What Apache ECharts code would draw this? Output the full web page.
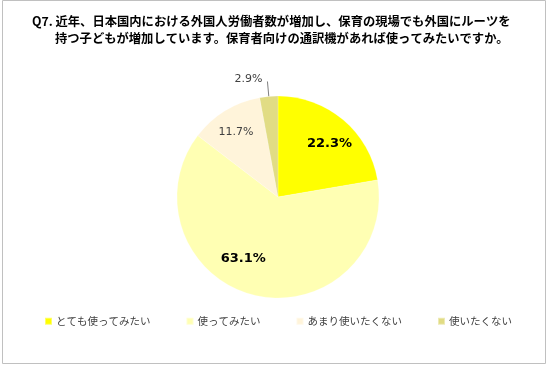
<!DOCTYPE html>
<html><head><meta charset="utf-8">
<script src="https://cdn.jsdelivr.net/npm/echarts@6/dist/echarts.min.js"></script>
<style>html,body{margin:0;padding:0;background:#fff}#c{width:549px;height:366px}</style>
</head><body><div id="c"></div>
<script>
const titleLine1 = 'Q7. 近年、日本国内における外国人労働者数が増加し、保育の現場でも外国にルーツを';
const titleLine2 = '持つ子どもが増加しています。保育者向けの通訳機があれば使ってみたいですか。';
const categories = ['とても使ってみたい', '使ってみたい', 'あまり使いたくない', '使いたくない'];
const values = [22.3, 63.1, 11.7, 2.9];
const colors = ['#FFFF00', '#FFFFB3', '#FFF4DA', '#E1DC84'];

const labelNudge = [[17, -12], [-22, 10], [-14, -19], [0, -2]];
const bigLabel = {show: true, position: 'inside', fontFamily: 'DejaVu Sans', fontWeight: 'bold', fontSize: 13, color: '#000'};
const labelStyles = [
  bigLabel,
  bigLabel,
  {show: true, position: 'inside', fontFamily: 'DejaVu Sans', fontSize: 11, color: '#404040'},
  {show: true, position: 'outside', fontFamily: 'DejaVu Sans', fontSize: 11, color: '#404040'}
];

const chart = echarts.init(document.getElementById('c'), null, {renderer: 'canvas'});
chart.setOption({
  animation: false,
  backgroundColor: '#fff',
  title: [
    {text: titleLine1, left: 32, top: 15, padding: 0,
     textStyle: {fontFamily: 'Noto Sans CJK JP', fontWeight: 'bold', fontSize: 12.3, color: '#000'}},
    {text: titleLine2, left: 55, top: 32, padding: 0,
     textStyle: {fontFamily: 'Noto Sans CJK JP', fontWeight: 'bold', fontSize: 12.3, color: '#000'}}
  ],
  graphic: [{type: 'rect', shape: {x: 2.5, y: 0.5, width: 543, height: 363}, style: {fill: 'none', stroke: '#c0c0c0', lineWidth: 1}, silent: true}],
  legend: {
    left: 44, top: 316, padding: 0, itemWidth: 7, itemHeight: 7, itemGap: 35, icon: 'rect',
    textStyle: {fontFamily: 'Noto Sans CJK JP', fontSize: 10.5, color: '#404040', padding: [0, 0, 0, -1]},
    data: categories
  },
  series: [{
    type: 'pie',
    center: [278, 197],
    radius: 101,
    startAngle: 90,
    clockwise: true,
    avoidLabelOverlap: false,
    itemStyle: {borderColor: 'rgba(255,255,255,0.4)', borderWidth: 0.5},
    label: {formatter: p => p.value.toFixed(1) + '%'},
    labelLine: {show: true, length: 15, length2: 0, lineStyle: {color: '#7f7f7f', width: 1}},
    labelLayout: function (p) {
      const n = labelNudge[p.dataIndex];
      return {dx: n[0], dy: n[1]};
    },
    emphasis: {disabled: true},
    data: categories.map((c, i) => ({
      name: c, value: values[i],
      itemStyle: {color: colors[i]},
      label: labelStyles[i],
      labelLine: {show: i === 3}
    }))
  }]
});
</script></body></html>
